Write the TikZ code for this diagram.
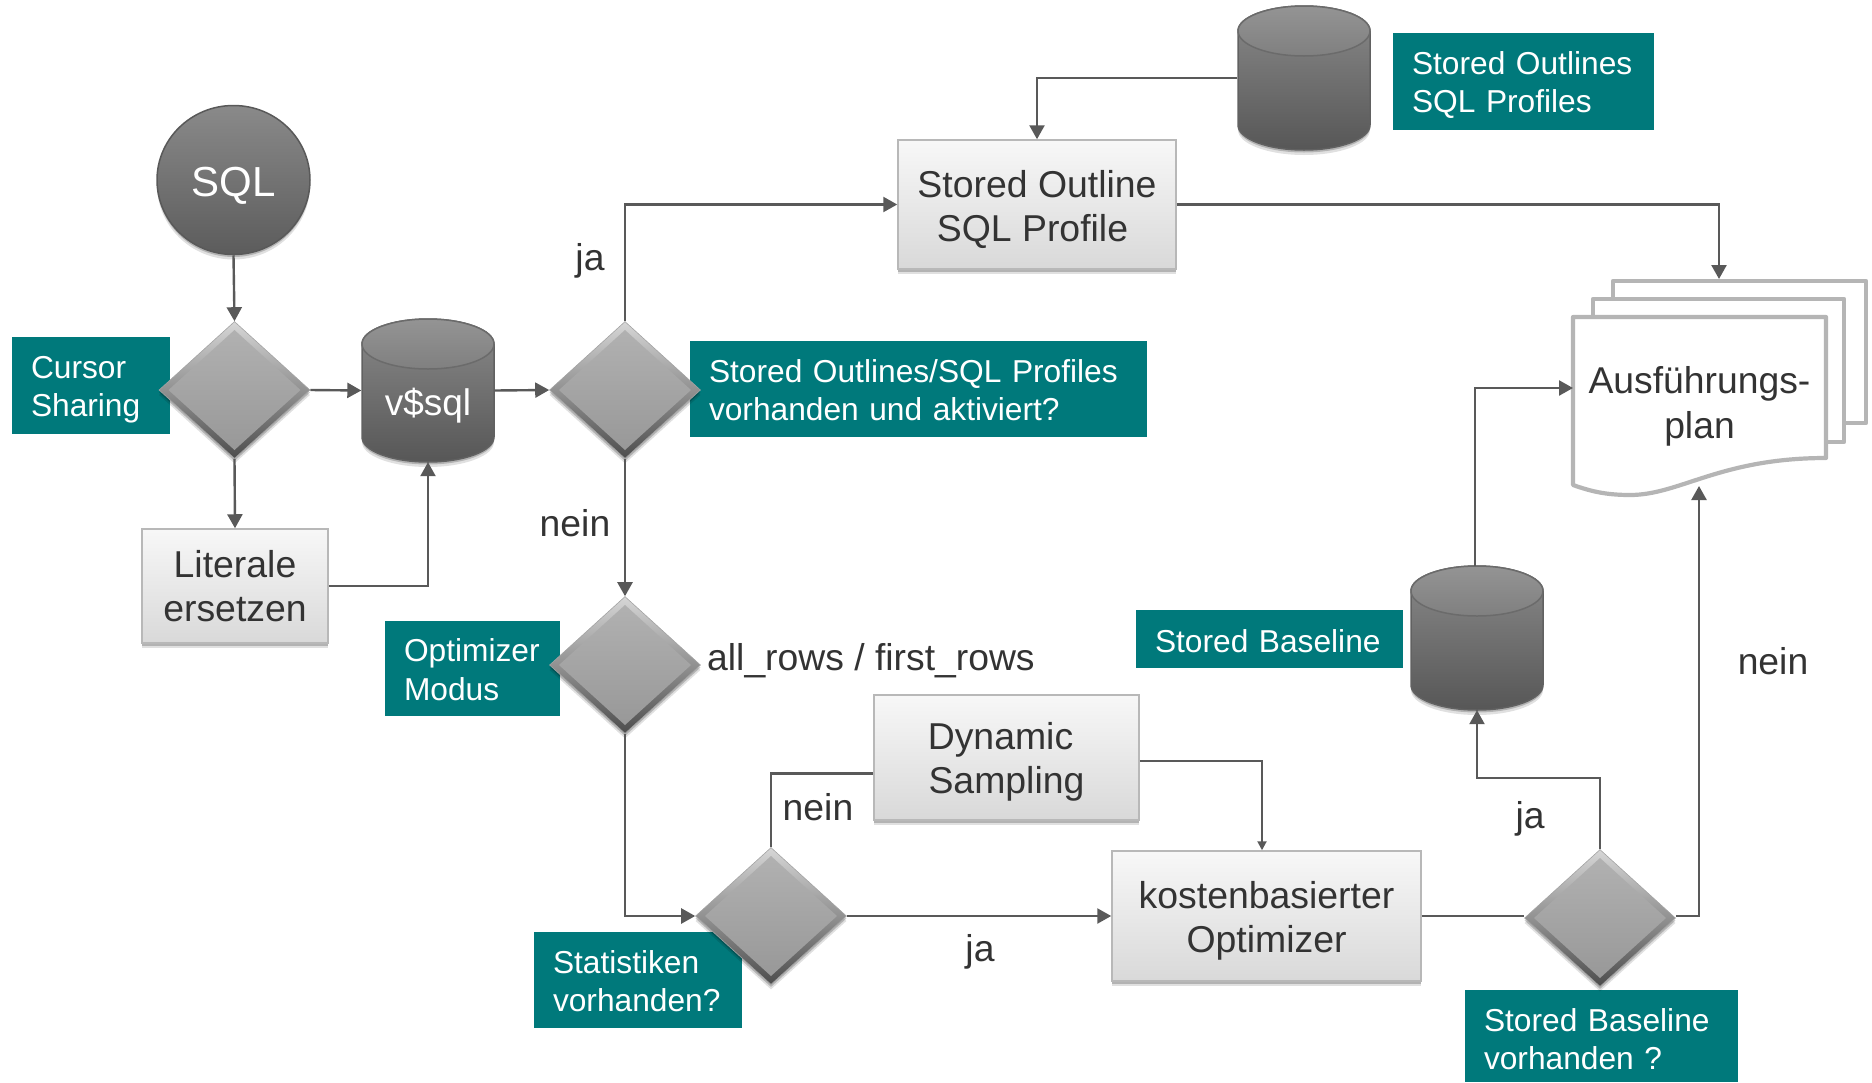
\documentclass[tikz,border=0pt]{standalone}
\usepackage{fontspec}
\setmainfont{Liberation Sans}
\usetikzlibrary{shapes.geometric,arrows.meta,shadows,calc}
\definecolor{tealbg}{HTML}{00797B}
\definecolor{linegray}{HTML}{595959}
\definecolor{txt}{HTML}{333333}
\definecolor{pagegray}{HTML}{B5B5B5}
\newcommand{\lowerstrut}[1]{\rule{0pt}{#1pt}}
\tikzset{
  softshadow/.style={drop shadow={shadow xshift=0pt,shadow yshift=-5pt,opacity=.12,fill=black},
                     drop shadow={shadow xshift=0pt,shadow yshift=-2.5pt,opacity=.2,fill=black}},
  topstrut/.style={execute at begin node={\rule{0pt}{#1pt}}},
  tealbox/.style 2 args={rectangle,fill=tealbg,text=white,align=left,inner xsep=19pt,inner ysep=0pt,
     text width=#1pt-38pt,minimum height=#2pt,font=\fontsize{31.7}{38.3}\selectfont},
  graybox/.style 2 args={rectangle,draw=black!28,line width=1.5pt,top color=black!3,bottom color=black!15,softshadow,
     align=center,text=txt,inner sep=0pt,minimum width=#1pt,minimum height=#2pt,font=\fontsize{37.4}{44}\selectfont},
  flow/.style={draw=linegray,line width=2.4pt,line join=miter},
  arr/.style={flow,-{Triangle[length=14pt,width=15pt]}},
  smallarr/.style={flow,line width=2pt,-{Triangle[length=9pt,width=9pt]}},
  lab/.style={text=txt,inner sep=0pt,font=\fontsize{37.3}{45}\selectfont},
  decide/.style={diamond,aspect=1.1,inner sep=0pt,minimum width=151pt,minimum height=137pt,
     draw=black!36,line width=.6pt,top color=black!16,middle color=black!32,bottom color=black!70,softshadow,
     path picture={\shade[top color=black!30,bottom color=black!41]
        ($(path picture bounding box.center)+(0,-60)$) -- ($(path picture bounding box.center)+(66,0)$)
        -- ($(path picture bounding box.center)+(0,60)$) -- ($(path picture bounding box.center)+(-66,0)$) -- cycle;}},
  ball/.style={ellipse,inner sep=0pt,minimum width=153pt,minimum height=149pt,draw=black!65,line width=1.5pt,
     top color=black!46,bottom color=black!64,softshadow,text=white,font=\fontsize{42}{48}\selectfont},
  page/.style={draw=pagegray,line width=4.2pt,line join=round,fill=white},
}
% name, centre x, top y, bottom y, text
\newcommand{\dbcyl}[5]{%
  \shade[top color=black!46,bottom color=black!66,draw=black!62,line width=1.5pt,softshadow]
    (#2-66,#4-25) arc[start angle=180,end angle=360,x radius=66pt,y radius=25pt]
    -- (#2+66,#3+25) arc[start angle=0,end angle=180,x radius=66pt,y radius=25pt] -- cycle;
  \shade[top color=black!42,bottom color=black!50,draw=black!58,line width=1.5pt]
    (#2,#3+25) ellipse[x radius=66pt,y radius=25pt];
  \node (#1) [rectangle,inner sep=0pt,minimum width=133pt,minimum height=#4pt-#3pt,text=white,
     font=\fontsize{37}{44}\selectfont,topstrut=57] at (#2,{(#3+#4)/2}) {#5};%
}
\begin{document}
\begin{tikzpicture}[x=1pt,y=-1pt]
\useasboundingbox (0,0) rectangle (1872,1082);
% teal labels
\node (lblA) [tealbox={158}{97},topstrut=30] at (91,385.5) {Cursor\\Sharing};
\node (lblB) [tealbox={261}{97},topstrut=30.5] at (1523.5,81.5) {Stored Outlines\\SQL Profiles};
\node (lblC) [tealbox={457}{96},topstrut=25] at (918.5,389) {Stored Outlines/SQL Profiles\\vorhanden und aktiviert?};
\node (lblD) [tealbox={175}{95},topstrut=25] at (472.5,668.5) {Optimizer\\Modus};
\node (lblE) [tealbox={208}{96},topstrut=25] at (638,980) {Statistiken\\vorhanden?};
\node (lblF) [tealbox={267}{58},topstrut=28] at (1269.5,639) {Stored Baseline};
\node (lblG) [tealbox={273}{92},topstrut=29] at (1601.5,1036) {Stored Baseline\\vorhanden ?};
% pages behind
\draw[page] (1613,299) -- (1613,281) -- (1866,281) -- (1866,423) -- (1844,423);
\draw[page] (1593,317) -- (1593,299) -- (1844,299) -- (1844,442) -- (1826,442);
\draw[page] (1573,317) -- (1826,317) -- (1826,458) .. controls (1720,458) and (1680,495) .. (1630,495)
   .. controls (1605,495) and (1590,491) .. (1573,485) -- cycle;
\node (plan) [lab,align=center,minimum width=253pt,minimum height=170pt] at (1699.5,402) {\lowerstrut{36.6}Ausführungs-\\plan};
% shapes
\node (sql) [ball,topstrut=40] at (233.5,180) {SQL};
\node (d1) [decide] at (234.5,390) {};
\dbcyl{vsql}{428}{319}{462}{v\$sql}
\node (d2) [decide] at (625,390) {};
\dbcyl{tcyl}{1304}{6}{150}{}
\node (so) [graybox={278}{129}] at (1037,204.5) {\lowerstrut{36.6}Stored Outline\\SQL Profile\hspace*{9pt}};
\node (lit) [graybox={186}{114}] at (235,586) {Literale\\ersetzen};
\node (d3) [decide] at (625,665) {};
\node (ds) [graybox={265}{125}] at (1006.5,757.5) {\lowerstrut{36.6}Dynamic\hspace*{12pt}\\Sampling};
\node (d4) [decide] at (771,916) {};
\node (kb) [graybox={309}{130}] at (1266.5,916) {\lowerstrut{36.6}kostenbasierter\\Optimizer};
\node (d5) [decide] at (1600,918) {};
\dbcyl{bc}{1477}{566}{710}{}
% free connector ends
\coordinate (planL) at (1573,388);
\coordinate (planB) at (1699,486);
\coordinate (planT) at (1719,279);
\coordinate (jaBend) at (1540,778);
% connectors
\draw[arr] (sql.south) -- (d1.north);
\draw[arr] (d1.east) -- (vsql.west);
\draw[arr] (d1.south) -- (lit.north);
\draw[arr] (lit.east) -| (vsql.south);
\draw[arr] (vsql.east) -- (d2.west);
\draw[arr] (d2.north) |- (so.west);
\draw[arr] (d2.south) -- (d3.north);
\draw[arr] (d3.south) |- (d4.west);
\draw[flow] (d4.north) |- ([yshift=-16pt]ds.west);
\draw[smallarr] ([yshift=-3pt]ds.east) -| ([xshift=-4.5pt]kb.north);
\draw[arr] (d4.east) -- (kb.west);
\draw[flow] (kb.east) -- (kb.east -| d5.west);
\draw[arr] (d5.north) |- (jaBend) -| (bc.south);
\draw[arr] (d5.east |- kb.east) -| (planB);
\draw[arr] ([xshift=-2pt]bc.north) |- (planL);
\draw[arr] (so.east) -| (planT);
\draw[arr] (tcyl.west) -| (so.north);
% labels
\node (t1) [lab] at (590,261) {ja};
\node (t2) [lab] at (575,523) {nein};
\node (t3) [lab,anchor=west] at (707,661) {all\_rows / first\_rows};
\node (t4) [lab] at (818,807) {nein};
\node (t5) [lab] at (980,952) {ja};
\node (t6) [lab] at (1530,819) {ja};
\node (t7) [lab] at (1773,661) {nein};
\end{tikzpicture}
\end{document}
